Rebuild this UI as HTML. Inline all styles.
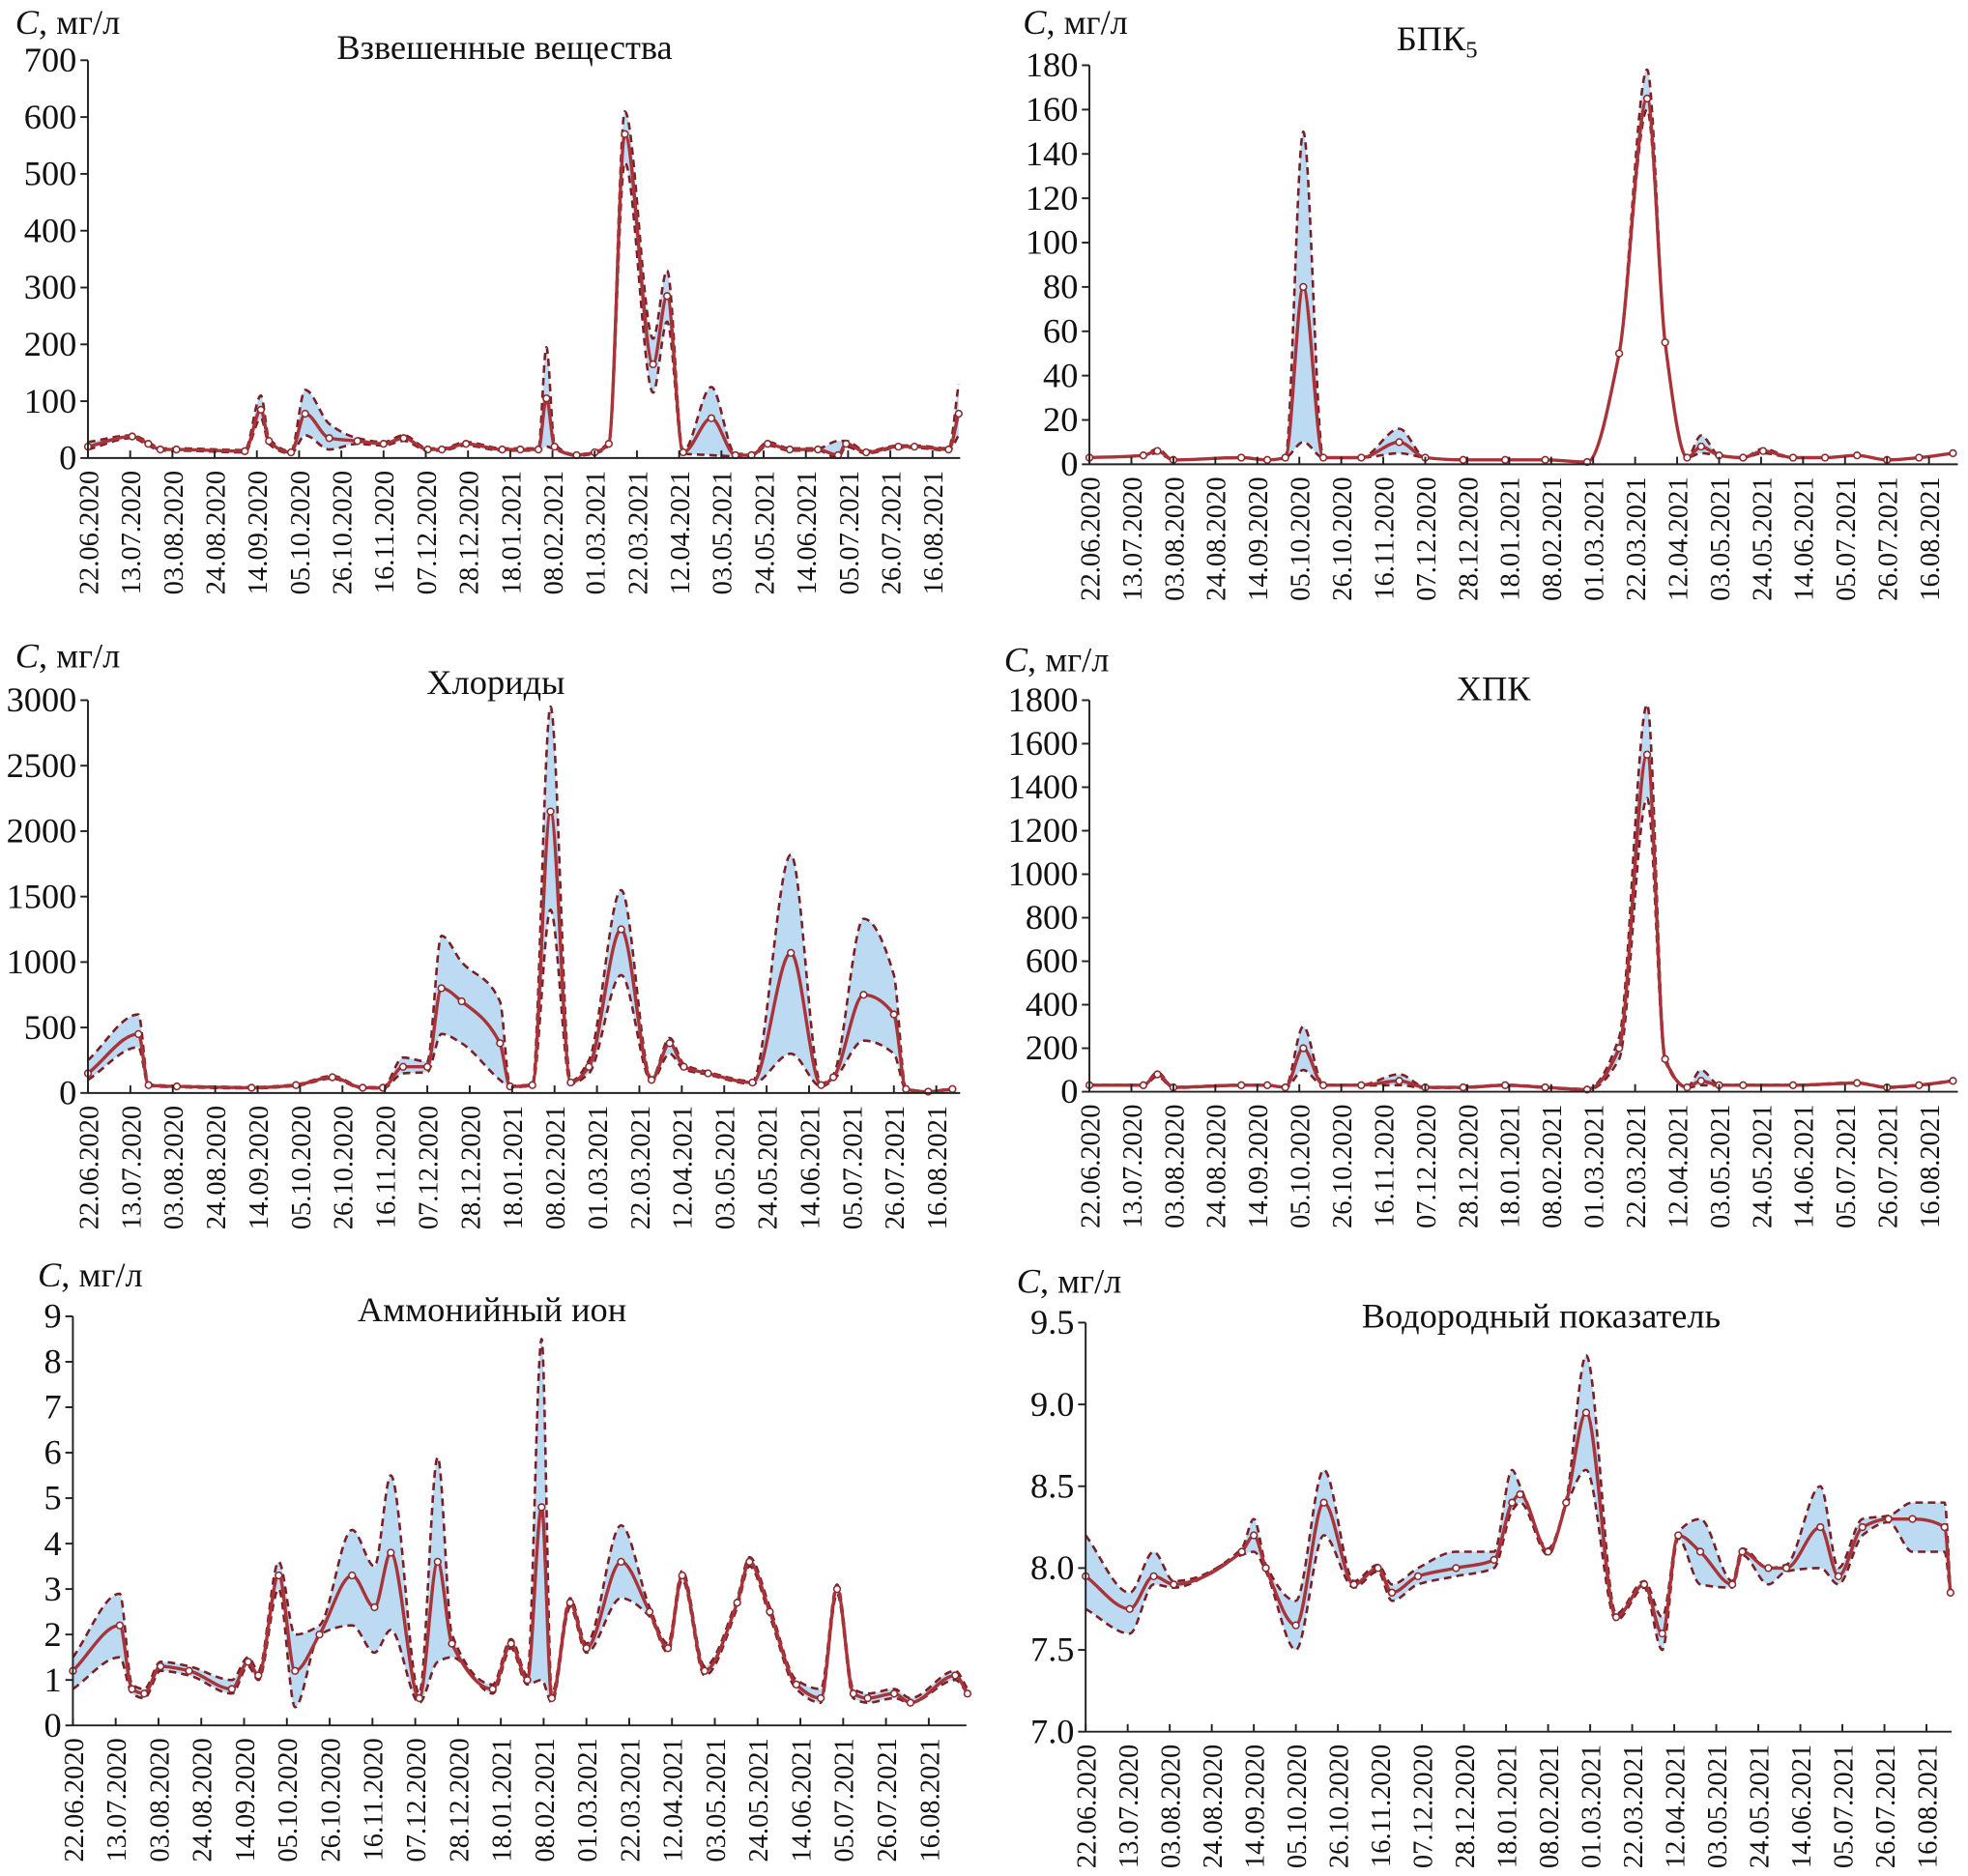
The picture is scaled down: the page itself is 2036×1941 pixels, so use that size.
<!DOCTYPE html>
<html><head><meta charset="utf-8"><style>
html,body{margin:0;padding:0;background:#fff}
svg{display:block}
text{font-family:"Liberation Serif",serif;fill:#111}
</style></head><body>
<svg id="s" width="2036" height="1941" viewBox="0 0 1568 1495"></svg>
<script>
const NS="http://www.w3.org/2000/svg";
const tickDates=["22.06.2020","13.07.2020","03.08.2020","24.08.2020","14.09.2020","05.10.2020","26.10.2020","16.11.2020","07.12.2020","28.12.2020","18.01.2021","08.02.2021","01.03.2021","22.03.2021","12.04.2021","03.05.2021","24.05.2021","14.06.2021","05.07.2021","26.07.2021","16.08.2021"];

// Panel 1: Взвешенные вещества
const p1Days=[0,22,30,36,44,78,86,90,101,108,120,134,147,157,169,176,188,206,215,224,228,232,243,252,259,267,281,288,296,310,322,330,338,349,363,373,377,387,403,411,428,433];
const p1Mean=[20,38,25,15,15,12,85,30,10,78,35,30,25,35,15,15,25,15,15,15,105,20,5,10,25,570,165,285,10,70,5,5,25,15,15,5,25,10,20,20,15,78];
const p1Lo=[15,35,22,13,13,10,70,25,8,40,15,25,22,30,13,13,22,13,13,13,20,15,4,8,22,520,115,240,8,5,3,3,22,13,13,0,20,8,18,18,13,40];
const p1Hi=[28,40,28,17,17,14,110,35,12,120,60,35,28,40,17,17,28,17,17,17,195,25,6,12,28,610,210,330,12,125,7,7,28,17,17,30,30,12,22,22,17,130];
const p1Ticks=[0,100,200,300,400,500,600,700];

// Panel 2: БПК5
const p2Days=[0,27,34,42,76,89,98,107,117,136,155,168,187,208,228,249,265,279,288,299,306,315,327,337,352,368,384,399,415,432];
const p2Mean=[3,4,6,2,3,2,3,80,3,3,10,3,2,2,2,1,50,165,55,3,8,4,3,6,3,3,4,2,3,5];
const p2Lo=[3,4,5,2,3,2,3,10,3,3,5,3,2,2,2,1,50,160,55,3,5,4,3,5,3,3,4,2,3,5];
const p2Hi=[3,4,7,2,3,2,3,150,3,3,16,3,2,2,2,1,50,178,55,3,13,4,3,7,3,3,4,2,3,5];
const p2Ticks=[0,20,40,60,80,100,120,140,160,180];

// Panel 3: Хлориды
const p3Days=[0,25,30,44,81,103,121,136,146,156,168,175,185,204,209,220,229,239,248,264,279,288,295,307,329,348,363,369,384,399,405,416,428];
const p3Mean=[150,450,60,50,40,60,120,40,40,200,200,800,700,380,50,60,2150,80,200,1250,100,380,200,150,80,1070,60,120,750,600,30,10,30];
const p3Lo=[100,350,55,45,35,55,110,35,35,150,160,450,380,100,45,55,1400,70,150,900,90,300,180,140,70,300,50,100,400,300,25,8,25];
const p3Hi=[250,600,65,55,45,65,130,45,45,270,240,1200,1000,700,55,65,2950,90,250,1550,110,420,220,160,90,1820,70,140,1330,900,35,12,35];
const p3Ticks=[0,500,1000,1500,2000,2500,3000];

// Panel 4: ХПК
const p4Days=[0,27,34,42,76,89,98,107,117,136,155,168,187,208,228,249,265,279,288,299,306,315,327,352,384,399,415,432];
const p4Mean=[30,30,80,20,30,30,20,200,30,30,50,20,20,30,20,10,200,1550,150,20,50,30,30,30,40,20,30,50];
const p4Lo=[28,28,70,18,28,28,18,100,28,28,30,18,18,28,18,8,150,1350,140,18,30,28,28,28,38,18,28,48];
const p4Hi=[32,32,90,22,32,32,22,300,32,32,80,22,22,32,22,12,250,1780,160,22,100,32,32,32,42,22,32,52];
const p4Ticks=[0,200,400,600,800,1000,1200,1400,1600,1800];

// Panel 5: Аммонийный ион
const p5Days=[0,23,29,35,43,57,78,86,91,101,109,121,137,148,156,170,179,186,206,215,223,230,235,244,252,269,283,292,299,310,326,332,342,355,367,375,383,390,403,411,433,439];
const p5Mean=[1.2,2.2,0.8,0.7,1.3,1.2,0.8,1.4,1.1,3.3,1.2,2.0,3.3,2.6,3.8,0.6,3.6,1.8,0.8,1.8,1.0,4.8,0.6,2.7,1.7,3.6,2.5,1.7,3.3,1.2,2.7,3.6,2.5,0.9,0.6,3.0,0.7,0.6,0.7,0.5,1.1,0.7];
const p5Lo=[0.8,1.5,0.7,0.6,1.2,1.1,0.7,1.3,1.0,3.0,0.4,2.0,2.2,1.6,2.1,0.5,1.4,1.5,0.7,1.7,0.9,1.0,0.5,2.6,1.6,2.8,2.4,1.6,3.2,1.1,2.6,3.5,2.4,0.8,0.5,2.9,0.6,0.5,0.6,0.5,1.0,0.7];
const p5Hi=[1.5,2.9,0.9,0.8,1.4,1.3,1.0,1.5,1.2,3.6,2.0,2.2,4.3,3.5,5.5,0.7,5.9,2.0,0.9,1.9,1.1,8.5,0.7,2.8,1.8,4.4,2.6,1.8,3.4,1.3,2.8,3.7,2.6,1.0,0.8,3.1,0.8,0.7,0.8,0.6,1.2,0.8];
const p5Ticks=[0,1,2,3,4,5,6,7,8,9];

// Panel 6: Водородный показатель
const p6Days=[0,22,34,44,78,84,90,105,119,134,146,153,166,185,204,213,217,231,240,250,265,279,288,296,307,323,328,341,350,367,376,388,401,413,429,432];
const p6Mean=[7.95,7.75,7.95,7.9,8.1,8.2,8.0,7.65,8.4,7.9,8.0,7.85,7.95,8.0,8.05,8.4,8.45,8.1,8.4,8.95,7.7,7.9,7.6,8.2,8.1,7.9,8.1,8.0,8.0,8.25,7.95,8.25,8.3,8.3,8.25,7.85];
const p6Lo=[7.75,7.6,7.9,7.88,8.08,8.1,7.98,7.5,8.2,7.88,7.98,7.8,7.9,7.95,8.0,8.35,8.4,8.08,8.38,8.6,7.68,7.88,7.5,8.18,7.9,7.88,8.08,7.9,7.98,8.0,7.9,8.2,8.28,8.1,8.1,7.83];
const p6Hi=[8.2,7.85,8.1,7.92,8.12,8.3,8.02,7.8,8.6,7.92,8.02,7.9,8.0,8.1,8.1,8.6,8.5,8.12,8.42,9.3,7.72,7.92,7.7,8.22,8.3,7.92,8.12,8.0,8.02,8.5,8.0,8.3,8.32,8.4,8.4,7.87];
const p6Ticks=[7.0,7.5,8.0,8.5,9.0,9.5];
const p6Labels=["7.0","7.5","8.0","8.5","9.0","9.5"];

const panels=[
 {name:"suspended-solids",title:"Взвешенные вещества",tx:402,ty:47,lx:12,ly:27,x0:70,x1:765,pxTick:33.65,y0:365,yTop:48,vmax:700,vmin:0,days:p1Days,mean:p1Mean,lo:p1Lo,hi:p1Hi,ticks:p1Ticks},
 {name:"bod5",title:"БПК",sub:"5",tx:1145,ty:40,lx:815,ly:27,x0:868,x1:1560,pxTick:33.45,y0:370,yTop:52,vmax:180,vmin:0,days:p2Days,mean:p2Mean,lo:p2Lo,hi:p2Hi,ticks:p2Ticks},
 {name:"chlorides",title:"Хлориды",tx:395,ty:553,lx:12,ly:532,x0:70,x1:765,pxTick:33.8,y0:871,yTop:558,vmax:3000,vmin:0,days:p3Days,mean:p3Mean,lo:p3Lo,hi:p3Hi,ticks:p3Ticks},
 {name:"cod",title:"ХПК",tx:1190,ty:558,lx:800,ly:535,x0:868,x1:1560,pxTick:33.45,y0:870,yTop:558,vmax:1800,vmin:0,days:p4Days,mean:p4Mean,lo:p4Lo,hi:p4Hi,ticks:p4Ticks},
 {name:"ammonium",title:"Аммонийный ион",tx:392,ty:1053,lx:30,ly:1025,x0:58,x1:770,pxTick:34.1,y0:1375,yTop:1049,vmax:9,vmin:0,days:p5Days,mean:p5Mean,lo:p5Lo,hi:p5Hi,ticks:p5Ticks},
 {name:"ph",title:"Водородный показатель",tx:1228,ty:1058,lx:810,ly:1030,x0:865,x1:1555,pxTick:33.5,y0:1380,yTop:1054,vmax:9.5,vmin:7.0,days:p6Days,mean:p6Mean,lo:p6Lo,hi:p6Hi,ticks:p6Ticks,labels:p6Labels}
];
const svg=document.getElementById('s');
function el(tag,attrs,parent){const e=document.createElementNS(NS,tag);for(const k in attrs)e.setAttribute(k,attrs[k]);(parent||svg).appendChild(e);return e;}
function smooth(pts){
 const n=pts.length;const dx=[],m=[],t=new Array(n);
 for(let i=0;i<n-1;i++){dx[i]=pts[i+1][0]-pts[i][0];m[i]=(pts[i+1][1]-pts[i][1])/(dx[i]||1e-6);}
 t[0]=m[0];t[n-1]=m[n-2];
 for(let i=1;i<n-1;i++){if(m[i-1]*m[i]<=0)t[i]=0;else{t[i]=3*(dx[i-1]+dx[i])/((2*dx[i]+dx[i-1])/m[i-1]+(dx[i]+2*dx[i-1])/m[i]);}}
 let d="M"+pts[0][0].toFixed(1)+","+pts[0][1].toFixed(1);
 for(let i=0;i<n-1;i++){const h=dx[i]/3;
  d+=" C"+(pts[i][0]+h).toFixed(1)+","+(pts[i][1]+t[i]*h).toFixed(1)+" "+(pts[i+1][0]-h).toFixed(1)+","+(pts[i+1][1]-t[i+1]*h).toFixed(1)+" "+pts[i+1][0].toFixed(1)+","+pts[i+1][1].toFixed(1);}
 return d;}
panels.forEach(p=>{
 const g=el('g',{});
 
 
 const X=d=>p.x0+d/21*p.pxTick;
 const Y=v=>p.y0-(v-p.vmin)/(p.vmax-p.vmin)*(p.y0-p.yTop);
 const hiPts=p.days.map((d,i)=>[X(d),Y(p.hi[i])]);
 const loPts=p.days.map((d,i)=>[X(d),Y(p.lo[i])]);
 const loRevPts=loPts.slice().reverse().map(q=>[-q[0],q[1]]);
 const loRevD=smooth(loRevPts).replace(/(-?[\d.]+),(-?[\d.]+)/g,(s,a,b)=>(-parseFloat(a)).toFixed(1)+","+b);
 const band=el('path',{d:smooth(hiPts)+" L"+loRevD.slice(1)+" Z",fill:"#bcdaf2",stroke:"none"},g);
 
 
 const hl=el('path',{d:smooth(hiPts),fill:"none",stroke:"#7a1f24","stroke-width":2,"stroke-dasharray":"6,4"},g);
 
 
 const ll=el('path',{d:smooth(loPts),fill:"none",stroke:"#7a1f24","stroke-width":2,"stroke-dasharray":"6,4"},g);
 
 
 const mPts=p.days.map((d,i)=>[X(d),Y(p.mean[i])]);
 const ml=el('path',{d:smooth(mPts),fill:"none",stroke:"#a8343a","stroke-width":2.6},g);
 
 
 mPts.forEach(pt=>{const c=el('circle',{cx:pt[0],cy:pt[1],r:2.6,fill:"#fff",stroke:"#8a2a2e","stroke-width":1.2},g);
  
  });
 const ya=el('line',{x1:p.x0,y1:p.y0,x2:p.x0,y2:p.yTop,stroke:"#222","stroke-width":1.5},g);
 
 
 const xa=el('line',{x1:p.x0,y1:p.y0,x2:p.x1,y2:p.y0,stroke:"#222","stroke-width":1.5},g);
 
 
 p.ticks.forEach((v,i)=>{const y=Y(v);el('line',{x1:p.x0-6,y1:y,x2:p.x0,y2:y,stroke:"#222","stroke-width":1.5},g);
  const t=el('text',{x:p.x0-9,y:y+9,"text-anchor":"end","font-size":28},g);t.textContent=p.labels?p.labels[i]:String(v);
  
  });
 tickDates.forEach((s,i)=>{const x=X(i*21);el('line',{x1:x,y1:p.y0,x2:x,y2:p.y0-6,stroke:"#222","stroke-width":1.5},g);
  const t=el('text',{x:0,y:0,"text-anchor":"end","font-size":22,transform:`translate(${x+8},${p.y0+10}) rotate(-90)`},g);t.textContent=s;
  
  });
 const yl=el('text',{x:p.lx,y:p.ly,"font-size":28},g);
 yl.innerHTML='<tspan font-style="italic">C</tspan>, мг/л';
 
 
 const tt=el('text',{x:p.tx,y:p.ty,"text-anchor":"middle","font-size":28},g);
 tt.textContent=p.title;
 if(p.sub){const ts=el('tspan',{"font-size":19,dy:6},tt);ts.textContent=p.sub;}
 
 
});
</script>
</body></html>
